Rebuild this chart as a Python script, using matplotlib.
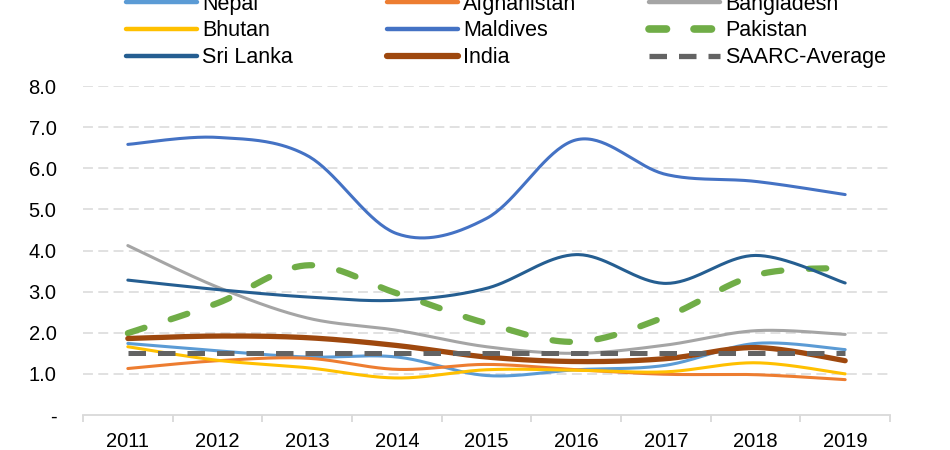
import numpy as np
import matplotlib
matplotlib.use("Agg")
import matplotlib.pyplot as plt
from matplotlib.lines import Line2D

# ── DATA ─────────────────────────────────────────────
years = ["2011", "2012", "2013", "2014", "2015", "2016", "2017", "2018", "2019"]

nepal       = [1.74, 1.56, 1.41, 1.41, 0.96, 1.10, 1.21, 1.74, 1.59]
afghanistan = [1.13, 1.32, 1.38, 1.11, 1.23, 1.10, 0.99, 0.98, 0.86]
bangladesh  = [4.12, 3.11, 2.36, 2.06, 1.66, 1.50, 1.70, 2.05, 1.96]
bhutan      = [1.66, 1.33, 1.15, 0.90, 1.10, 1.09, 1.05, 1.27, 1.00]
maldives    = [6.58, 6.75, 6.31, 4.41, 4.78, 6.69, 5.85, 5.68, 5.36]
pakistan    = [1.99, 2.72, 3.64, 2.96, 2.23, 1.78, 2.39, 3.40, 3.58]
sri_lanka   = [3.28, 3.05, 2.87, 2.79, 3.08, 3.90, 3.20, 3.88, 3.21]
india       = [1.86, 1.92, 1.88, 1.69, 1.41, 1.30, 1.37, 1.64, 1.32]
saarc_avg   = [1.51, 1.51, 1.51, 1.51, 1.51, 1.51, 1.51, 1.51, 1.51]

y_ticks = [0, 1, 2, 3, 4, 5, 6, 7, 8]
y_tick_labels = ["-", "1.0", "2.0", "3.0", "4.0", "5.0", "6.0", "7.0", "8.0"]


# Excel-style smoothed line (bezier through the points)
def smooth(vals, n=40):
    pts = np.column_stack([np.arange(len(vals), dtype=float), np.asarray(vals, float)])
    last = len(pts) - 1
    t = np.linspace(0, 1, n)[:, None]
    out = []
    for i in range(last):
        p0, p1 = pts[max(i - 1, 0)], pts[i]
        p2, p3 = pts[i + 1], pts[min(i + 2, last)]
        c1 = p1 + (p2 - p0) / 6
        c2 = p2 - (p3 - p1) / 6
        seg = (1 - t) ** 3 * p1 + 3 * (1 - t) ** 2 * t * c1 + 3 * (1 - t) * t ** 2 * c2 + t ** 3 * p2
        out.append(seg if i == 0 else seg[1:])
    s = np.vstack(out)
    return s[:, 0], s[:, 1]


plt.rcParams["font.family"] = ["Liberation Sans", "DejaVu Sans"]

fig = plt.figure(figsize=(9.5, 4.5), dpi=100)
ax = fig.add_axes([83 / 950, 1 - 415 / 450, 807 / 950, 329 / 450])

# name, values, colour, line width, dash pattern, legend line width
series = [
    ("Nepal", nepal, "#5B9BD5", 2.2, None, 3.2),
    ("Afghanistan", afghanistan, "#ED7D31", 2.2, None, 3.2),
    ("Bangladesh", bangladesh, "#A5A5A5", 2.2, None, 3.2),
    ("Bhutan", bhutan, "#FFC000", 2.2, None, 3.2),
    ("Maldives", maldives, "#4472C4", 2.2, None, 3.2),
    ("Pakistan", pakistan, "#70AD47", 4.5, (2.8, 4.4), 5.5),
    ("Sri Lanka", sri_lanka, "#255E91", 2.2, None, 3.2),
    ("India", india, "#9E480E", 3.8, None, 4.5),
    ("SAARC-Average", saarc_avg, "#636363", 3.6, (3.5, 2.4), 3.8),
]

handles = {}
for name, vals, color, lw, dash, leg_lw in series:
    xs, ys = smooth(vals)
    line, = ax.plot(xs, ys, color=color, lw=lw, solid_capstyle="round", label=name)
    cap = "round" if name == "Pakistan" else "butt"
    if dash is not None:
        line.set_dashes(dash)
        line.set_dash_capstyle(cap)
        leg_dash = (dash[0] * lw / leg_lw, dash[1] * lw / leg_lw)
        handles[name] = Line2D([], [], color=color, lw=leg_lw, dashes=leg_dash,
                               dash_capstyle=cap)
    else:
        handles[name] = Line2D([], [], color=color, lw=leg_lw, solid_capstyle="round")

# ── AXES STYLE ─────────────────────────────────────────
ax.set_xlim(-0.5, len(years) - 0.5)
ax.set_ylim(0, 8)
ax.set_yticks(y_ticks)
ax.set_yticklabels(y_tick_labels)
ax.set_xticks(range(len(years)))
ax.set_xticklabels(years)
ax.set_xticks(np.arange(-0.5, len(years)), minor=True)

for y in y_ticks[1:]:
    ax.axhline(y, color="#D9D9D9", lw=1.1, dashes=(6.5, 3.5), zorder=0)

for side in ["top", "right", "left"]:
    ax.spines[side].set_visible(False)
ax.spines["bottom"].set_color("#D9D9D9")
ax.spines["bottom"].set_linewidth(1.3)

ax.tick_params(axis="x", which="major", length=0, pad=12, labelsize=14.5)
ax.tick_params(axis="x", which="minor", length=5, width=1.3, color="#D9D9D9")
ax.tick_params(axis="y", length=0, pad=19, labelsize=14.5)

# ── LEGEND (3 columns, clipped at top) ──────────────────
cols = [["Nepal", "Bhutan", "Sri Lanka"],
        ["Afghanistan", "Maldives", "India"],
        ["Bangladesh", "Pakistan", "SAARC-Average"]]
col_x = [126, 387, 649]
for names, x in zip(cols, col_x):
    fig.legend([handles[n] for n in names], names, loc="center left",
               bbox_to_anchor=(x / 950, 1 - 31 / 450), frameon=False,
               fontsize=15.5, borderpad=0, borderaxespad=0, handlelength=3.3,
               handletextpad=0.25, labelspacing=0.27)

fig.savefig("out.png", dpi=100)
